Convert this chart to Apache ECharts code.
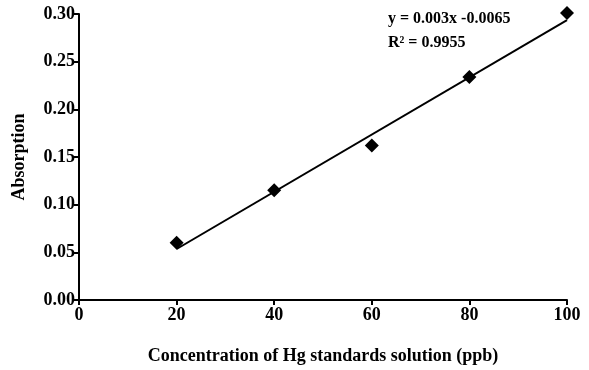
<!DOCTYPE html>
<html><head><meta charset="utf-8">
<script src="https://cdn.jsdelivr.net/npm/echarts@6/dist/echarts.min.js"></script>
<style>html,body{margin:0;padding:0;background:#fff}#c{width:589px;height:370px}</style>
</head><body><div id="c"></div>
<script>
var concentrations = [20, 40, 60, 80, 100];
var absorption = [0.060, 0.115, 0.162, 0.234, 0.301];
var trendX = [20, 100];
var trendY = [0.0535, 0.2935];
var xTicks = [0, 20, 40, 60, 80, 100];
var yTicks = [0.00, 0.05, 0.10, 0.15, 0.20, 0.25, 0.30];
var equationText = 'y = 0.003x -0.0065';
var r2Text = 'R\u00B2 = 0.9955';

var font = '"Liberation Serif", "DejaVu Serif", serif';
var chart = echarts.init(document.getElementById('c'));
var axisStyle = {
  axisLine: {show: true, onZero: false, lineStyle: {color: '#000', width: 2}},
  axisTick: {show: true, inside: false, length: 5, lineStyle: {color: '#000', width: 2}},
  splitLine: {show: false},
  axisLabel: {color: '#000', fontFamily: font, fontWeight: 'bold', fontSize: 18}
};
chart.setOption({
  animation: false,
  backgroundColor: '#fff',
  grid: {left: 79, right: 22, top: 14, bottom: 70, containLabel: false, outerBoundsMode: 'none'},
  xAxis: Object.assign({
    type: 'value', min: xTicks[0], max: xTicks[xTicks.length - 1], interval: 20,
    name: 'Concentration of Hg standards solution (ppb)', nameLocation: 'middle', nameGap: 47,
    nameTextStyle: {color: '#000', fontFamily: font, fontWeight: 'bold', fontSize: 18}
  }, axisStyle, {axisLabel: Object.assign({}, axisStyle.axisLabel, {margin: 6})}),
  yAxis: Object.assign({
    type: 'value', min: yTicks[0], max: yTicks[yTicks.length - 1], interval: 0.05,
    name: 'Absorption', nameLocation: 'middle', nameGap: 51,
    nameTextStyle: {color: '#000', fontFamily: font, fontWeight: 'bold', fontSize: 18}
  }, axisStyle, {axisLabel: Object.assign({}, axisStyle.axisLabel, {margin: 4,
    formatter: function (v) { return v.toFixed(2); }})}),
  series: [
    {
      type: 'line', data: trendX.map(function (x, i) { return [x, trendY[i]]; }),
      symbol: 'none', lineStyle: {color: '#000', width: 2}, z: 2
    },
    {
      type: 'scatter', clip: false, data: concentrations.map(function (x, i) { return [x, absorption[i]]; }),
      symbol: 'diamond', symbolSize: 14, itemStyle: {color: '#000', opacity: 1}, z: 3
    }
  ],
  graphic: [
    {type: 'text', left: 388, top: 11, style: {text: equationText, fill: '#000', font: 'bold 16px ' + font}},
    {type: 'text', left: 388, top: 35, style: {text: r2Text, fill: '#000', font: 'bold 16px ' + font}}
  ]
});
</script>
</body></html>
